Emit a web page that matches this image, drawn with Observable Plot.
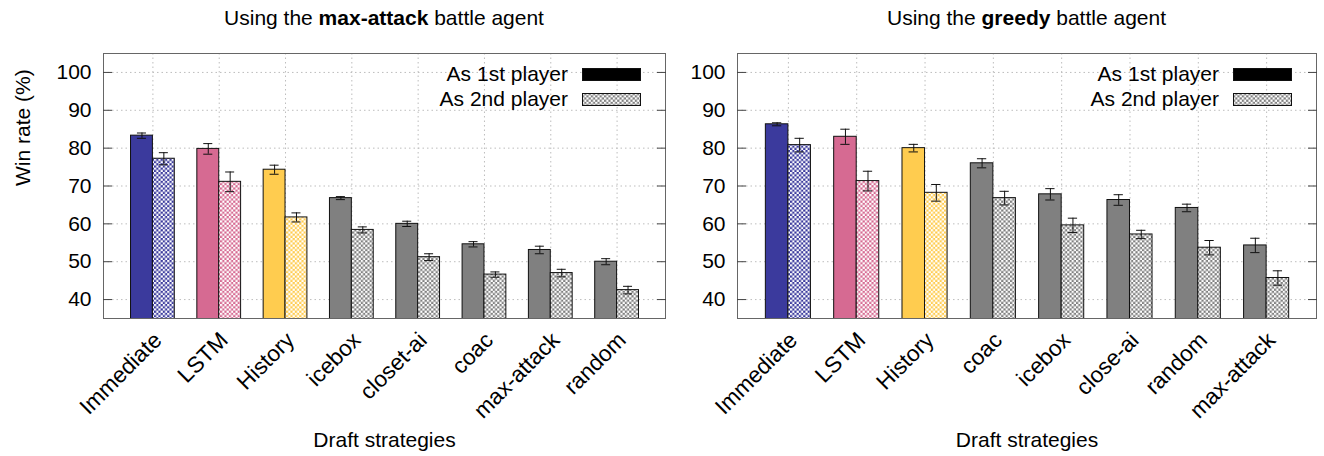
<!DOCTYPE html>
<html><head><meta charset="utf-8">
<script src="https://cdn.jsdelivr.net/npm/d3@7"></script>
<script src="https://cdn.jsdelivr.net/npm/@observablehq/plot@0.6"></script>
<style>
html,body{margin:0;padding:0;background:#fff;overflow:hidden;}
body{font-family:"Liberation Sans",Arial,sans-serif;color:#000;}
#wrap{position:relative;width:1324px;height:456px;}
.panel{position:absolute;top:0;height:456px;}
.panel svg.plot{position:absolute;top:40px;left:0;}
.title{position:absolute;top:6px;font-size:21px;line-height:24px;white-space:nowrap;transform:translateX(-50%);}
.legend{position:absolute;font-size:21px;line-height:24px;}
.legrow{position:absolute;right:0;display:flex;align-items:center;white-space:nowrap;}
.legrow svg{margin-left:14px;display:block;}
</style></head><body><div id="wrap"></div>
<script>
// ---------- data ----------
const yTicks = [40, 50, 60, 70, 80, 90, 100];
const seriesNames = ["As 1st player", "As 2nd player"];

const leftTitle = ["Using the ", "max-attack", " battle agent"];
const leftCategories = ["Immediate", "LSTM", "History", "icebox", "closet-ai", "coac", "max-attack", "random"];
const leftFirst     = [83.3, 79.8, 74.3, 66.8, 60.0, 54.6, 53.1, 50.0];
const leftFirstErr  = [0.7, 1.4, 1.2, 0.4, 0.7, 0.7, 1.0, 0.8];
const leftSecond    = [77.2, 71.1, 61.7, 58.4, 51.2, 46.6, 47.0, 42.5];
const leftSecondErr = [1.6, 2.6, 1.2, 0.8, 0.9, 0.7, 1.0, 1.0];
const leftColorKeys = ["blue", "pink", "yellow", "gray", "gray", "gray", "gray", "gray"];

const rightTitle = ["Using the ", "greedy", " battle agent"];
const rightCategories = ["Immediate", "LSTM", "History", "coac", "icebox", "close-ai", "random", "max-attack"];
const rightFirst     = [86.3, 83.0, 80.0, 76.0, 67.8, 66.3, 64.2, 54.3];
const rightFirstErr  = [0.4, 2.0, 1.0, 1.2, 1.5, 1.4, 1.0, 1.9];
const rightSecond    = [80.8, 71.3, 68.2, 66.8, 59.6, 57.2, 53.7, 45.7];
const rightSecondErr = [1.8, 2.6, 2.2, 1.8, 1.9, 1.1, 1.9, 1.9];
const rightColorKeys = ["blue", "pink", "yellow", "gray", "gray", "gray", "gray", "gray"];

const palette = {blue: "#3b3a9d", pink: "#d66a92", yellow: "#ffcc4f", gray: "#808080", black: "#000000"};

// ---------- patterns ----------
const FONT = '"Liberation Sans", Arial, sans-serif';
const defsSvg = d3.select("body").append("svg")
  .attr("width", 0).attr("height", 0)
  .style("position", "absolute").style("left", 0).style("top", 0);
const defs = defsSvg.append("defs");
const T = 4.4, S = 2.2;
for (const [k, c] of Object.entries(palette)) {
  const p = defs.append("pattern").attr("id", "pat-" + k)
    .attr("patternUnits", "userSpaceOnUse").attr("width", T).attr("height", T);
  p.append("rect").attr("width", T).attr("height", T).attr("fill", c);
  p.append("rect").attr("x", 0).attr("y", 0).attr("width", S).attr("height", S).attr("fill", "#fff");
  p.append("rect").attr("x", 2.2).attr("y", 2.2).attr("width", S).attr("height", S).attr("fill", "#fff");
}

// ---------- panel ----------
function makePanel(o) {
  const bw = 0.33, cap = 0.068;
  const bars = [];
  o.categories.forEach((c, i) => {
    bars.push({x1: i - bw, x2: i, xc: i - bw / 2, v: o.first[i], e: o.firstErr[i], fill: palette[o.colorKeys[i]]});
    bars.push({x1: i, x2: i + bw, xc: i + bw / 2, v: o.second[i], e: o.secondErr[i], fill: `url(#pat-${o.colorKeys[i]})`});
  });
  const idx = o.categories.map((_, i) => i);
  const chart = Plot.plot({
    width: o.width, height: 416,
    marginTop: 13, marginBottom: 138, marginLeft: o.marginLeft, marginRight: o.marginRight,
    style: {fontFamily: FONT, fontSize: "21px", color: "#000", background: "transparent", overflow: "visible"},
    x: {type: "linear", domain: [-0.745, 7.73]},
    y: {domain: [35, 105]},
    color: {type: "identity"},
    marks: [
      Plot.gridY(yTicks, {stroke: "#bdbdbd", strokeOpacity: 1, strokeDasharray: "1.5,3"}),
      Plot.gridX(idx, {stroke: "#bdbdbd", strokeOpacity: 1, strokeDasharray: "1.5,3"}),
      Plot.rect(bars, {x1: "x1", x2: "x2", y1: 0, y2: "v", fill: "fill", stroke: "#111", strokeWidth: 1, clip: true}),
      Plot.ruleX(bars, {x: "xc", y1: d => d.v - d.e, y2: d => d.v + d.e, stroke: "#111", strokeWidth: 1}),
      Plot.ruleY(bars, {x1: d => d.xc - cap, x2: d => d.xc + cap, y: d => d.v + d.e, stroke: "#111", strokeWidth: 1}),
      Plot.ruleY(bars, {x1: d => d.xc - cap, x2: d => d.xc + cap, y: d => d.v - d.e, stroke: "#111", strokeWidth: 1}),
      Plot.frame({stroke: "#666", strokeWidth: 1}),
      Plot.axisY(yTicks, {tickSize: 0, tickPadding: 12, label: null}),
      Plot.axisY(yTicks, {tickSize: -9, tickFormat: () => "", label: null, stroke: "#444"}),
      Plot.axisY(yTicks, {anchor: "right", tickSize: -9, tickFormat: () => "", label: null, stroke: "#444"}),
      Plot.axisX(idx, {tickFormat: i => o.categories[i], tickRotate: -45, tickSize: 0, tickPadding: 18, dx: 5, fontSize: 22.5, label: null}),
      Plot.text(["Draft strategies"], {text: d => d, frameAnchor: "bottom", dy: 128}),
      o.yLabel ? Plot.text([o.yLabel], {text: d => d, frameAnchor: "left", dx: -80, rotate: -90}) : null
    ]
  });
  chart.classList.add("plot");

  const panel = document.createElement("div");
  panel.className = "panel";
  panel.style.left = o.left + "px";
  panel.style.width = o.width + "px";
  panel.appendChild(chart);

  const frameCenter = o.marginLeft + (o.width - o.marginLeft - o.marginRight) / 2;
  const title = document.createElement("div");
  title.className = "title";
  title.style.left = frameCenter + "px";
  title.append(o.title[0]);
  const b = document.createElement("b"); b.textContent = o.title[1]; title.append(b);
  title.append(o.title[2]);
  panel.appendChild(title);

  const legend = document.createElement("div");
  legend.className = "legend";
  legend.style.right = (o.marginRight + 24) + "px";
  legend.style.top = "62px";
  legend.style.width = "300px";
  legend.style.height = "60px";
  seriesNames.forEach((name, j) => {
    const row = document.createElement("div");
    row.className = "legrow";
    row.style.top = (j * 25) + "px";
    const span = document.createElement("span"); span.textContent = name;
    row.appendChild(span);
    const sw = d3.create("svg").attr("width", 59).attr("height", 13);
    sw.append("rect").attr("x", 0.5).attr("y", 0.5).attr("width", 58).attr("height", 12)
      .attr("fill", j === 0 ? palette.black : "url(#pat-gray)").attr("stroke", "#111");
    row.appendChild(sw.node());
    legend.appendChild(row);
  });
  panel.appendChild(legend);
  document.getElementById("wrap").appendChild(panel);
}

makePanel({left: 0, width: 680, marginLeft: 103, marginRight: 15, title: leftTitle,
  categories: leftCategories, first: leftFirst, firstErr: leftFirstErr, second: leftSecond, secondErr: leftSecondErr,
  colorKeys: leftColorKeys, yLabel: "Win rate (%)"});
makePanel({left: 680, width: 644, marginLeft: 57, marginRight: 8, title: rightTitle,
  categories: rightCategories, first: rightFirst, firstErr: rightFirstErr, second: rightSecond, secondErr: rightSecondErr,
  colorKeys: rightColorKeys, yLabel: null});
</script></body></html>
